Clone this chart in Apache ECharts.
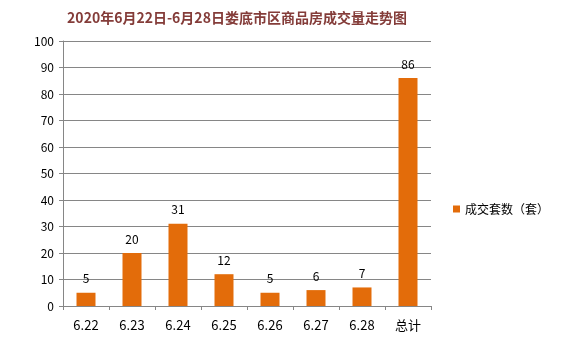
<!DOCTYPE html>
<html><head><meta charset="utf-8">
<script src="https://cdn.jsdelivr.net/npm/echarts@6/dist/echarts.min.js"></script>
<style>html,body{margin:0;padding:0;background:#fff}#c{width:573px;height:359px}</style>
</head><body><div id="c"></div>
<script>
const categories = ['6.22','6.23','6.24','6.25','6.26','6.27','6.28','总计'];
const values = [5, 20, 31, 12, 5, 6, 7, 86];
const seriesName = '成交套数（套）';
const titleText = '2020年6月22日-6月28日娄底市区商品房成交量走势图';
const chart = echarts.init(document.getElementById('c'));
const font = '"Noto Sans CJK SC", sans-serif';
chart.setOption({
  animation: false,
  title: { text: titleText, left: 232, top: 6, textAlign: 'center',
    textStyle: { color: '#843C39', fontSize: 14, fontWeight: 'bold', fontFamily: font } },
  legend: { data: [seriesName], left: 448, top: 198, icon: 'rect', itemWidth: 7, itemHeight: 7, itemGap: 4,
    textStyle: { color: '#000', fontSize: 12, fontFamily: font } },
  grid: { left: 63, right: 142, top: 41, bottom: 53 },
  xAxis: { type: 'category', data: categories,
    axisLine: { lineStyle: { color: '#868686' } },
    axisTick: { show: true, length: 4, lineStyle: { color: '#868686' } },
    axisLabel: { color: '#000', fontSize: 13, fontFamily: font, margin: 13 } },
  yAxis: { type: 'value', min: 0, max: 100, interval: 10,
    axisLine: { show: true, lineStyle: { color: '#868686' } },
    axisTick: { show: true, length: 4, lineStyle: { color: '#868686' } },
    splitLine: { lineStyle: { color: '#868686' } },
    axisLabel: { color: '#000', fontSize: 12, fontFamily: font, margin: 9 } },
  series: [{ name: seriesName, type: 'bar', data: values, barWidth: 19,
    itemStyle: { color: '#E36C0A' },
    label: { show: true, position: 'top', distance: 8, color: '#000', fontSize: 12, fontFamily: font } }]
});
</script></body></html>
